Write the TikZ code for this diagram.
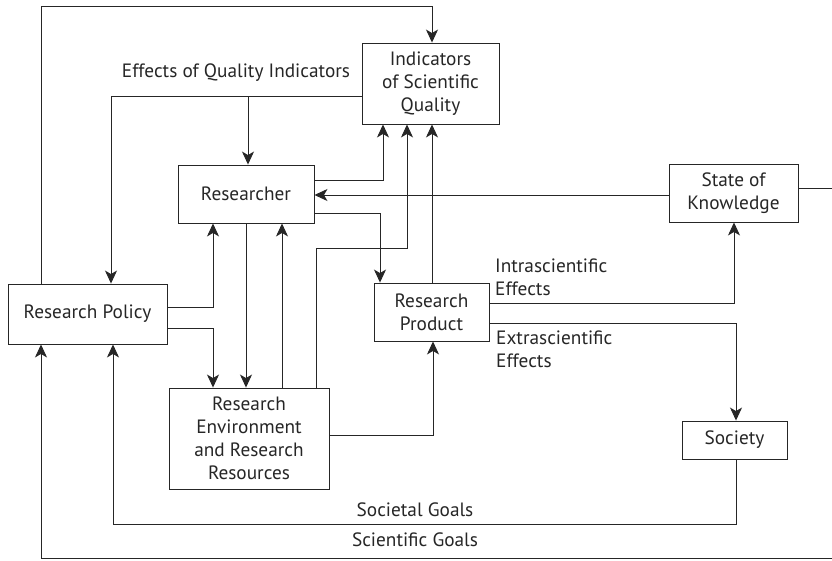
\documentclass[tikz,border=0pt]{standalone}
\usepackage{fontspec}
\setmainfont{PT Sans}
\usetikzlibrary{arrows.meta}
\definecolor{ink}{HTML}{262626}
\begin{document}
\begin{tikzpicture}[x=1pt,y=-1pt,
  txt/.style={font=\fontsize{19.3}{23}\selectfont, text=ink},
  box/.style={txt, draw=ink, line width=0.9pt, align=center, inner sep=0pt},
  lbl/.style={txt, inner sep=0pt},
  arr/.style={draw=ink, line width=0.9pt, -{Stealth[length=13pt,width=12pt,inset=3.5pt]}},
  ln/.style={draw=ink, line width=0.9pt}]
\useasboundingbox (0,0) rectangle (832,560);
\clip (0,0) rectangle (832,560);

% boxes
\node[box, minimum width=137, minimum height=81] (ind) at (430.5,83.5) {Indicators\\of Scientific\\Quality};
\node[box, minimum width=136, minimum height=58] (res) at (246,194) {Researcher};
\node[box, minimum width=159, minimum height=60] (pol) at (87.5,314) {Research Policy};
\node[box, minimum width=115, minimum height=58] (prod) at (431.5,312) {Research\\Product};
\node[box, minimum width=129, minimum height=58] (sok) at (733.5,193) {State of\\Knowledge};
\node[box, minimum width=160, minimum height=101] (env) at (249,438.5) {Research\\Environment\\and Research\\Resources};
\node[box, minimum width=105, minimum height=38] (soc) at (734.5,440) {Society};

% labels
\node[lbl, anchor=base] (effq) at (236,77) {Effects of Quality Indicators};
\node[lbl, anchor=west, align=left] (intra) at (495,277) {Intrascientific\\Effects};
\node[lbl, anchor=west, align=left] (extra) at (496,349) {Extrascientific\\Effects};
\node[lbl, anchor=base] (socg) at (415,516) {Societal Goals};
\node[lbl, anchor=base] (scig) at (415,546) {Scientific Goals};

% connectors
\draw[arr] (41,0 |- pol.north) -- (41,6) -- (432,6) -- (432,0 |- ind.north);
\draw[arr] (ind.west |- 0,96) -- (111,96) -- (111,0 |- pol.north);
\coordinate (eqbranch) at (248,96);
\draw[arr] (eqbranch) -- (248,0 |- res.north);
\draw[arr] (res.east |- 0,180) -- (383,180) -- (383,0 |- ind.south);
\draw[arr] (316,0 |- env.north) -- (316,248) -- (407,248) -- (407,0 |- ind.south);
\draw[arr] (432,0 |- prod.north) -- (432,0 |- ind.south);
\draw[arr] (sok.west |- 0,195) -- (res.east |- 0,195);
\draw[arr] (res.east |- 0,213) -- (380,213) -- (380,0 |- prod.north);
\draw[arr] (pol.east |- 0,307) -- (213,307) -- (213,0 |- res.south);
\draw[arr] (pol.east |- 0,328) -- (213,328) -- (213,0 |- env.north);
\draw[arr] (246,0 |- res.south) -- (246,0 |- env.north);
\draw[arr] (282,0 |- env.north) -- (282,0 |- res.south);
\draw[arr] (env.east |- 0,435) -- (433,435) -- (433,0 |- prod.south);
\draw[arr] (prod.east |- 0,303) -- (734,303) -- (734,0 |- sok.south);
\draw[arr] (prod.east |- 0,323) -- (736,323) -- (736,0 |- soc.north);
\draw[arr] (736,0 |- soc.south) -- (736,524) -- (113,524) -- (113,0 |- pol.south);
\draw[arr] (sok.east |- 0,188) -- (840,188) -- (840,558) -- (41,558) -- (41,0 |- pol.south);
\end{tikzpicture}
\end{document}
